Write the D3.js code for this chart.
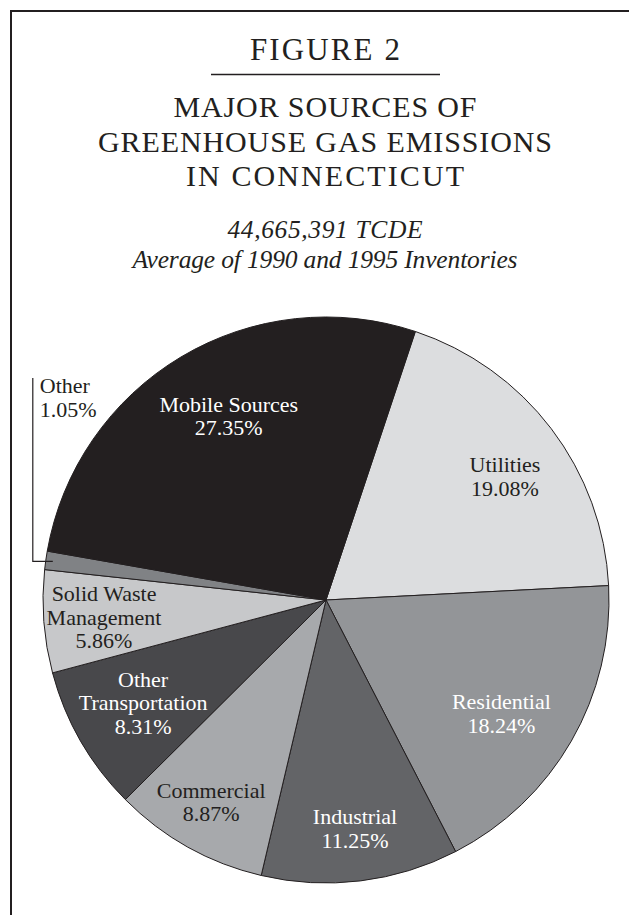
<!DOCTYPE html>
<html>
<head>
<meta charset="utf-8">
<script src="https://cdn.jsdelivr.net/npm/d3@7"></script>
<style>
  html, body { margin: 0; padding: 0; background: #fff; }
  svg { display: block; }
</style>
</head>
<body>
<div id="chart"></div>
<script>
// Figure 2 - greenhouse gas sources pie

// data, clockwise starting from Utilities
const categories = ["Utilities", "Residential", "Industrial", "Commercial",
  "Other Transportation", "Solid Waste Management", "Other", "Mobile Sources"];
const shares = [19.08, 18.24, 11.25, 8.87, 8.31, 5.86, 1.05, 27.35];
const labelLines = [["Utilities"], ["Residential"], ["Industrial"], ["Commercial"],
  ["Other", "Transportation"], ["Solid Waste", "Management"], ["Other"], ["Mobile Sources"]];

const figureLabel = "FIGURE 2";
const titleLines = ["MAJOR SOURCES OF", "GREENHOUSE GAS EMISSIONS", "IN CONNECTICUT"];
const subtitleLines = ["44,665,391 TCDE", "Average of 1990 and 1995 Inventories"];

function renderFigure() {
    const W = 629, H = 915;
    const cx = 326, cy = 600, R = 283;
    const serif = "'Liberation Serif', 'Times New Roman', serif";
    const ink = "#231f20";

    const fills = {
        "Utilities": "#dcdddf",
        "Residential": "#939598",
        "Industrial": "#636467",
        "Commercial": "#a7a9ac",
        "Other Transportation": "#48484b",
        "Solid Waste Management": "#c7c8ca",
        "Other": "#808285",
        "Mobile Sources": "#231f20"
    };
    const textFill = {
        "Utilities": ink, "Commercial": ink, "Solid Waste Management": ink, "Other": ink
    };
    // label placement: radius fraction and small angle nudge (deg)
    const labelPos = {
        "Utilities": [0.767, 2.8],
        "Residential": [0.739, 3.1],
        "Industrial": [0.816, -0.2],
        "Commercial": [0.823, 0.35],
        "Other Transportation": [0.742, 0.45],
        "Solid Waste Management": [0.787, -0.25],
        "Mobile Sources": [0.734, 2.9]
    };

    const svg = d3.select("#chart").append("svg")
        .attr("width", W).attr("height", H);

    // frame
    svg.append("rect")
        .attr("x", 11).attr("y", 11)
        .attr("width", 720).attr("height", 1000)
        .attr("fill", "none").attr("stroke", ink).attr("stroke-width", 2);

    // headings
    const tx = 325;
    svg.append("text")
        .attr("x", tx).attr("y", 60)
        .attr("text-anchor", "middle")
        .attr("font-family", serif).attr("font-size", 31)
        .attr("textLength", 150).attr("lengthAdjust", "spacing")
        .attr("fill", ink)
        .text(figureLabel);

    svg.append("line")
        .attr("x1", 211).attr("x2", 440)
        .attr("y1", 74.5).attr("y2", 74.5)
        .attr("stroke", ink).attr("stroke-width", 1.6);

    const titleWidths = [303, 454, 278];
    svg.selectAll(".title-line")
        .data(titleLines)
        .enter()
        .append("text")
        .attr("class", "title-line")
        .attr("x", tx)
        .attr("y", (d, i) => 117 + i * 34.5)
        .attr("text-anchor", "middle")
        .attr("font-family", serif).attr("font-size", 30)
        .attr("textLength", (d, i) => titleWidths[i]).attr("lengthAdjust", "spacing")
        .attr("fill", ink)
        .text(d => d);

    const subWidths = [195, 385];
    svg.selectAll(".sub-line")
        .data(subtitleLines)
        .enter()
        .append("text")
        .attr("class", "sub-line")
        .attr("x", tx)
        .attr("y", (d, i) => 238 + i * 30)
        .attr("text-anchor", "middle")
        .attr("font-family", serif).attr("font-size", 25.5)
        .attr("font-style", "italic")
        .attr("textLength", (d, i) => subWidths[i]).attr("lengthAdjust", "spacing")
        .attr("fill", ink)
        .text(d => d);

    // pie
    const rows = categories.map((c, i) => ({ name: c, value: shares[i], lines: labelLines[i] }));
    const start = 18.4 * Math.PI / 180;
    const pie = d3.pie().sort(null).value(d => d.value)
        .startAngle(start).endAngle(start + 2 * Math.PI);
    const arcs = pie(rows);
    const arc = d3.arc().innerRadius(0).outerRadius(R);

    const g = svg.append("g").attr("transform", `translate(${cx},${cy})`);

    g.selectAll(".slice")
        .data(arcs)
        .enter()
        .append("path")
        .attr("class", "slice")
        .attr("d", arc)
        .attr("fill", d => fills[d.data.name])
        .attr("stroke", ink)
        .attr("stroke-width", 1)
        .attr("stroke-linejoin", "round");

    const pct = d3.format(".2f");
    const lineH = 23.5;

    arcs.filter(d => d.data.name !== "Other").forEach(d => {
        const [rf, nudge] = labelPos[d.data.name];
        const a = (d.startAngle + d.endAngle) / 2 + nudge * Math.PI / 180;
        const lx = Math.sin(a) * R * rf;
        const ly = -Math.cos(a) * R * rf;
        const lines = d.data.lines.concat([pct(d.data.value) + "%"]);
        const n = lines.length;
        const t = g.append("text")
            .attr("text-anchor", "middle")
            .attr("font-family", serif).attr("font-size", 22)
            .attr("fill", textFill[d.data.name] || "#ffffff");
        lines.forEach((s, i) => {
            t.append("tspan")
                .attr("x", lx)
                .attr("y", ly + 7 + (i - (n - 1) / 2) * lineH)
                .text(s);
        });
    });

    // small "Other" slice gets a bracket callout on the left
    const other = arcs.find(d => d.data.name === "Other");
    const oa = (other.startAngle + other.endAngle) / 2;
    const ex = Math.sin(oa) * R * 0.975;
    const ey = -Math.cos(oa) * R * 0.975;
    const bx = ex - 20, top = 378 - cy;
    g.append("path")
        .attr("d", `M${bx},${top}V${ey}H${ex}`)
        .attr("fill", "none").attr("stroke", ink).attr("stroke-width", 1.2);
    const ot = g.append("text")
        .attr("font-family", serif).attr("font-size", 22)
        .attr("fill", ink);
    other.data.lines.concat([pct(other.data.value) + "%"]).forEach((s, i) => {
        ot.append("tspan")
            .attr("x", bx + 7)
            .attr("y", 393 - cy + i * 24)
            .text(s);
    });
}

document.addEventListener("DOMContentLoaded", renderFigure);
</script>
</body>
</html>
